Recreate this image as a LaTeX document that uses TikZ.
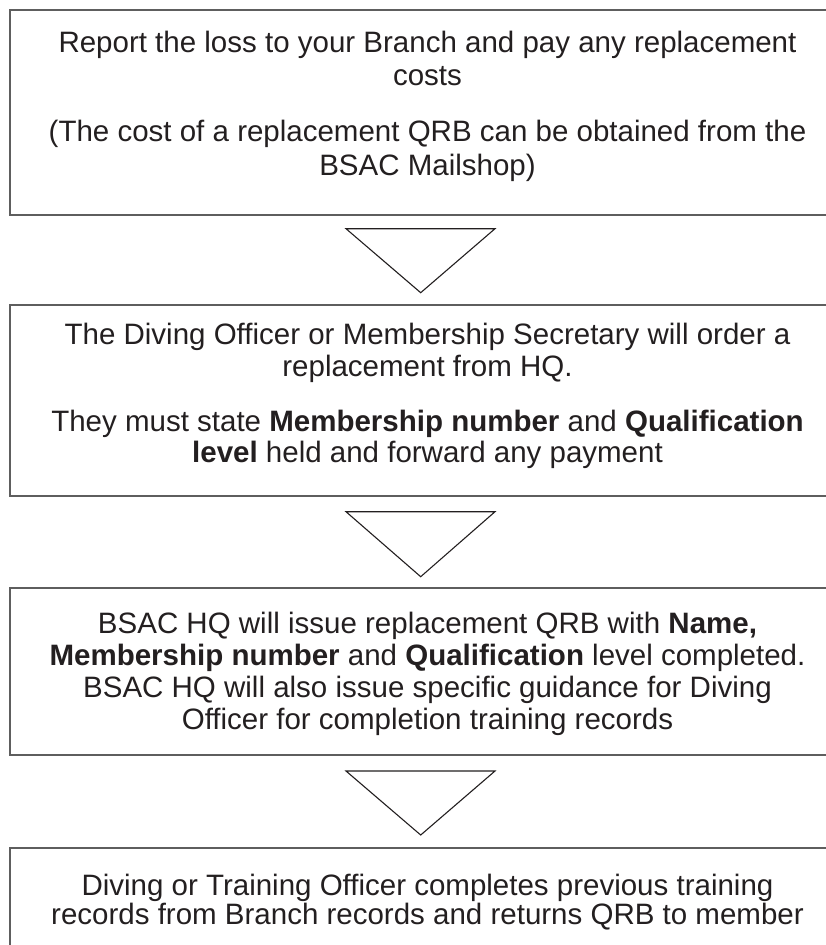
\documentclass[tikz,border=0pt]{standalone}
\usepackage{fontspec}
\setmainfont{Liberation Sans}
\definecolor{txtcol}{HTML}{231F20}
\definecolor{boxcol}{HTML}{5E5E5E}
\tikzset{
  flowbox/.style={draw=boxcol, line width=1.8pt, rectangle, inner sep=0pt, anchor=north west, minimum width=838pt},
  ln/.style={anchor=base, inner sep=0pt, text=txtcol, font=\fontsize{29.5}{32}\selectfont},
  arrowtri/.style={draw=txtcol, line width=1.1pt, line join=miter}
}
\begin{document}
\begin{tikzpicture}[x=1pt,y=-1pt]
\useasboundingbox (0,0) rectangle (826,945);
\clip (0,0) rectangle (826,945);
\fill[white] (0,0) rectangle (826,945);
% boxes
\node[flowbox, minimum height=205pt] (b1) at (8.7,8.7) {};
\node[flowbox, minimum height=191pt] (b2) at (8.7,304) {};
\node[flowbox, minimum height=167.3pt] (b3) at (8.7,586.7) {};
\node[flowbox, minimum height=130pt] (b4) at (8.7,846.7) {};
% arrows (open triangles)
\draw[arrowtri] (346,228.7) -- (495,228.7) -- (420.7,292.7) -- cycle;
\draw[arrowtri] (346,511.7) -- (495,511.7) -- (420.7,576.7) -- cycle;
\draw[arrowtri] (346,771) -- (495,771) -- (420.7,835) -- cycle;
% box 1 text
\node[ln] (t11) at (427.5,52) {Report the loss to your Branch and pay any replacement};
\node[ln] (t12) at (427.5,85) {costs};
\node[ln] (t13) at (427.5,141) {(The cost of a replacement QRB can be obtained from the};
\node[ln] (t14) at (427.5,175) {BSAC Mailshop)};
% box 2 text
\node[ln] (t21) at (427.5,344) {The Diving Officer or Membership Secretary will order a};
\node[ln] (t22) at (427.5,376) {replacement from HQ.};
\node[ln] (t23) at (427.5,431) {They must state \textbf{Membership number} and \textbf{Qualification}};
\node[ln] (t24) at (427.5,462) {\textbf{level} held and forward any payment};
% box 3 text
\node[ln] (t31) at (427.5,633) {BSAC HQ will issue replacement QRB with \textbf{Name,}};
\node[ln] (t32) at (427.5,665) {\textbf{Membership number} and \textbf{Qualification} level completed.};
\node[ln] (t33) at (427.5,697) {BSAC HQ will also issue specific guidance for Diving};
\node[ln] (t34) at (427.5,729) {Officer for completion training records};
% box 4 text
\node[ln] (t41) at (427.5,895) {Diving or Training Officer completes previous training};
\node[ln] (t42) at (427.5,924) {records from Branch records and returns QRB to member};
\end{tikzpicture}
\end{document}
